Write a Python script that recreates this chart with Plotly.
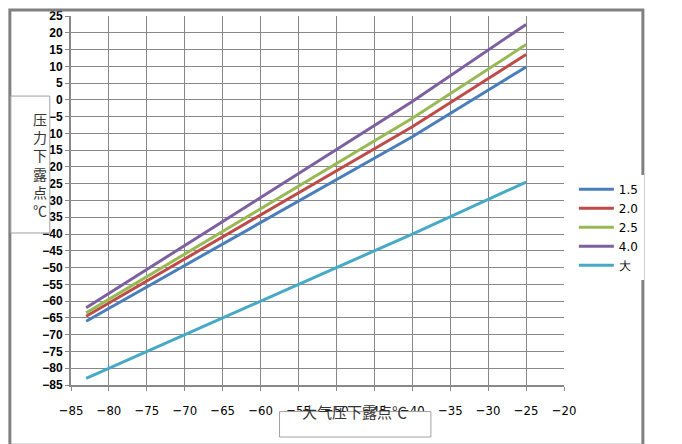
import plotly.graph_objects as go

x_pts = [-83, -40, -25]
series_names = ["1.5", "2.0", "2.5", "4.0", "大"]
y_15 = [-66, -11, 9.8]
y_20 = [-64.5, -8, 13.5]
y_25 = [-63.5, -5.5, 16.5]
y_40 = [-62, -0.5, 22.5]
y_atm = [-83, -40, -24.5]
colors = ["#4a7ebb", "#be4b48", "#98b954", "#7d60a0", "#46aac5"]

fig = go.Figure()
for name, ys, c in zip(series_names, [y_15, y_20, y_25, y_40, y_atm], colors):
    fig.add_trace(go.Scatter(x=x_pts, y=ys, name=name, mode="lines",
                             line=dict(color=c, width=3)))

fig.update_layout(
    width=682, height=444, plot_bgcolor="white", paper_bgcolor="white",
    margin=dict(l=63, r=126, t=8, b=67, autoexpand=False),
    font=dict(family="Liberation Sans", color="black", size=12),
    legend=dict(x=1.02, y=0.57, xanchor="left", yanchor="top",
                font=dict(size=12, family="DejaVu Sans"), tracegroupgap=8,
                itemwidth=35),
    shapes=[
        dict(type="rect", xref="paper", yref="paper", x0=-0.124, x1=1.16, y0=-0.163, y1=1.016,
             line=dict(color="#808080", width=3)),
        dict(type="rect", xref="paper", yref="paper", x0=-0.122, x1=-0.043, y0=0.412, y1=0.783,
             line=dict(color="#a0a0a0", width=1), fillcolor="white"),
        dict(type="rect", xref="paper", yref="paper", x0=0.423, x1=0.73, y0=-0.141, y1=-0.072,
             line=dict(color="#a0a0a0", width=1), fillcolor="white"),
    ],
    annotations=[
        dict(text="压<br>力<br>下<br>露<br>点<br>℃", xref="paper", yref="paper", x=-0.082, y=0.597,
             showarrow=False, font=dict(family="Noto Sans CJK SC", size=14, color="#333")),
        dict(text="大气压下露点℃", xref="paper", yref="paper", x=0.576, y=-0.107,
             showarrow=False, font=dict(family="Noto Sans CJK SC", size=15, color="#333")),
    ],
)
fig.update_xaxes(range=[-85, -20], dtick=5, tick0=-85, showgrid=True, gridcolor="#888",
                 gridwidth=1, showline=True, linecolor="#888", linewidth=2,
                 ticks="outside", ticklen=4, tickcolor="#888", ticklabelstandoff=8,
                 tickfont=dict(size=13, family="DejaVu Sans Condensed"), zeroline=False)
fig.update_yaxes(range=[-85, 25], dtick=5, showgrid=True, gridcolor="#888",
                 gridwidth=1, showline=True, linecolor="#888", linewidth=2,
                 ticks="outside", ticklen=4, tickcolor="#888", zeroline=False,
                 tickfont=dict(size=12, family="Liberation Sans", weight="bold"))
fig.write_html("out.html")
